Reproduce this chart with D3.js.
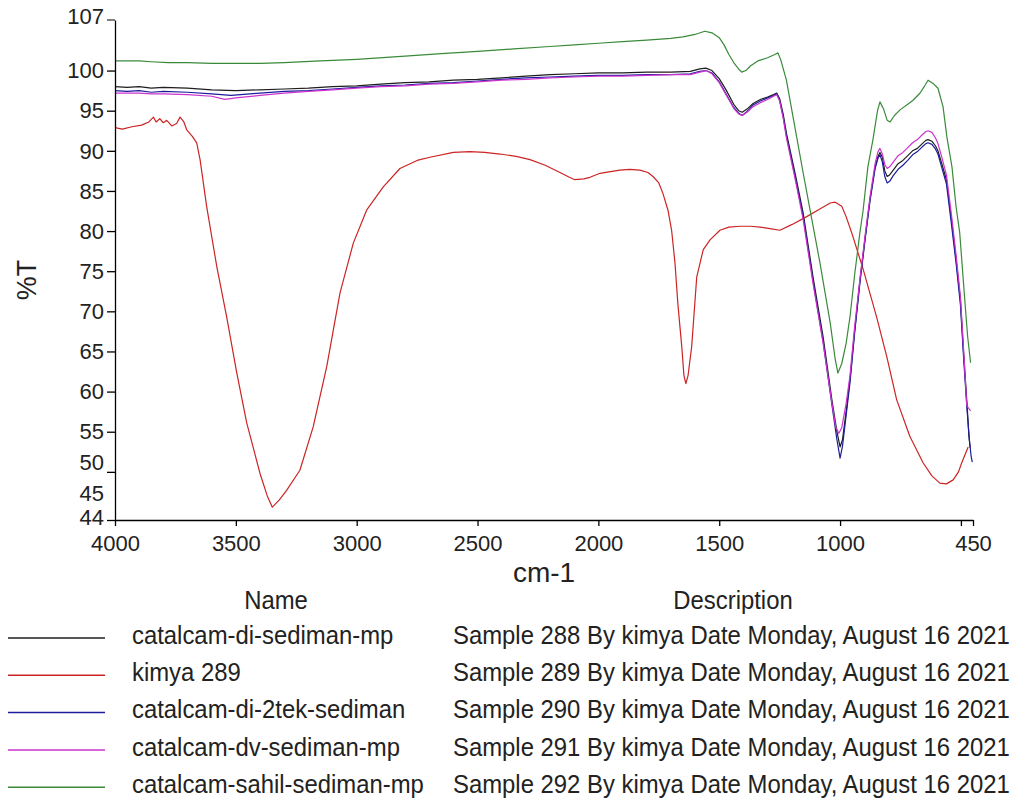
<!DOCTYPE html>
<html>
<head>
<meta charset="utf-8">
<script src="https://cdn.jsdelivr.net/npm/d3@7"></script>
<style>
  html, body { margin: 0; padding: 0; background: #fff; }
  svg { display: block; }
  text { font-family: "Liberation Sans", Arial, sans-serif; fill: #222; }
</style>
</head>
<body>
<svg id="chart" width="1017" height="805"></svg>
<script>
// ---------- DATA (wavenumber cm-1, %T) ----------
const seriesNames = ["catalcam-di-sediman-mp", "kimya 289", "catalcam-di-2tek-sediman", "catalcam-dv-sediman-mp", "catalcam-sahil-sediman-mp"];
const seriesDescriptions = [
  "Sample 288 By kimya Date Monday, August 16 2021",
  "Sample 289 By kimya Date Monday, August 16 2021",
  "Sample 290 By kimya Date Monday, August 16 2021",
  "Sample 291 By kimya Date Monday, August 16 2021",
  "Sample 292 By kimya Date Monday, August 16 2021"
];
const seriesColors = ["#1e1e1e", "#cc2424", "#1c1c9c", "#cc33cc", "#3a8a3a"];

const black = [
  [4000,98.0],[3950,97.9],[3900,98.0],[3850,97.8],[3800,97.9],[3700,97.8],[3600,97.6],[3500,97.5],[3400,97.6],[3300,97.7],
  [3200,97.8],[3100,98.0],[3000,98.1],[2900,98.3],[2800,98.5],[2700,98.6],[2600,98.8],[2500,98.9],[2400,99.1],
  [2300,99.3],[2200,99.5],[2100,99.6],[2000,99.7],[1900,99.7],[1800,99.8],[1700,99.8],[1620,99.9],[1580,100.2],
  [1555,100.3],[1530,100.0],[1500,99.0],[1470,97.5],[1440,95.8],[1420,95.0],[1405,94.8],[1385,95.2],[1360,95.9],
  [1330,96.4],[1300,96.7],[1275,97.0],[1262,97.2],[1250,96.5],[1235,94.5],[1222,92.2],[1186,87.2],[1153,82.3],
  [1112,74.3],[1070,66.8],[1034,59.0],[1013,55.0],[1000,53.1],[990,54.0],[975,57.5],[959,61.5],[940,67.5],
  [918,73.8],[895,79.5],[876,84.0],[855,88.0],[843,89.3],[835,89.8],[825,89.2],[815,87.5],[805,86.8],[795,87.0],
  [780,87.6],[760,88.4],[740,88.8],[720,89.4],[700,90.0],[680,90.3],[660,90.9],[645,91.3],[636,91.4],[620,91.2],
  [605,90.6],[595,90.0],[580,88.5],[560,86.4],[539,81.4],[520,76.5],[502,71.4],[488,64.4],[474,58.1],[467,54.5],[462,53.0]
];
const red = [
  [4000,92.9],[3970,92.7],[3930,93.0],[3890,93.2],[3860,93.6],[3841,94.2],[3830,93.6],[3815,94.0],[3800,93.5],
  [3786,93.8],[3765,93.1],[3745,93.4],[3731,94.2],[3715,93.6],[3703,92.6],[3680,91.8],[3662,91.0],[3648,88.9],
  [3621,83.1],[3579,75.6],[3538,69.3],[3496,62.3],[3455,56.1],[3400,49.8],[3370,47.0],[3349,45.6],[3320,46.5],
  [3290,47.7],[3235,50.2],[3180,55.6],[3124,63.1],[3069,72.3],[3014,78.5],[2959,82.6],[2890,85.5],[2821,87.8],
  [2750,88.8],[2697,89.2],[2600,89.8],[2531,89.9],[2470,89.8],[2407,89.6],[2340,89.3],[2283,88.9],[2220,88.2],
  [2159,87.3],[2120,86.7],[2097,86.4],[2060,86.5],[2035,86.7],[1993,87.2],[1950,87.4],[1911,87.6],[1870,87.7],
  [1828,87.6],[1795,87.3],[1774,86.8],[1750,86.0],[1733,84.7],[1712,82.6],[1697,80.1],[1683,76.0],[1671,70.9],
  [1655,65.6],[1646,62.0],[1638,61.0],[1629,62.0],[1614,65.6],[1593,74.3],[1566,77.7],[1538,78.9],[1497,80.1],
  [1460,80.5],[1414,80.6],[1370,80.6],[1331,80.5],[1290,80.3],[1249,80.1],[1200,80.8],[1138,81.8],[1080,82.8],
  [1041,83.5],[1020,83.6],[993,83.1],[975,81.8],[952,79.8],[904,75.2],[849,69.3],[807,64.4],[766,59.0],
  [711,54.4],[656,51.1],[620,49.5],[587,48.6],[560,48.5],[532,49.0],[510,50.0],[497,51.1],[470,53.1]
];
const blue = [
  [4000,97.5],[3950,97.4],[3900,97.5],[3850,97.3],[3800,97.4],[3700,97.3],[3600,97.1],[3520,96.9],[3480,97.0],
  [3400,97.2],[3300,97.4],[3200,97.5],[3100,97.7],[3000,97.9],[2900,98.1],[2800,98.2],[2700,98.4],[2600,98.5],
  [2500,98.7],[2400,98.9],[2300,99.1],[2200,99.2],[2100,99.3],[2000,99.4],[1900,99.4],[1800,99.5],[1700,99.5],
  [1620,99.6],[1580,99.9],[1555,100.0],[1530,99.7],[1500,98.6],[1470,97.0],[1440,95.4],[1420,94.7],[1405,94.4],
  [1385,94.9],[1360,95.7],[1330,96.2],[1300,96.6],[1275,96.9],[1262,97.1],[1250,96.3],[1235,94.2],[1222,91.9],
  [1186,86.8],[1153,81.9],[1112,73.8],[1070,66.2],[1034,58.4],[1013,54.0],[1000,51.7],[990,53.2],[975,57.0],
  [959,61.1],[940,67.2],[918,73.5],[895,79.3],[876,83.8],[855,87.8],[843,89.1],[835,89.5],[825,88.6],[815,86.8],
  [805,86.0],[795,86.2],[780,86.9],[760,87.7],[740,88.2],[720,88.8],[700,89.5],[680,89.9],[660,90.5],[645,90.9],
  [636,91.0],[620,90.8],[605,90.2],[595,89.6],[580,88.0],[560,85.9],[539,80.8],[520,76.0],[502,70.8],[488,63.8],
  [474,57.5],[465,54.0],[458,52.0],[453,51.2]
];
const magenta = [
  [4000,97.2],[3950,97.2],[3900,97.2],[3850,97.1],[3800,97.1],[3700,97.0],[3600,96.8],[3545,96.4],[3500,96.6],
  [3400,96.9],[3300,97.2],[3200,97.4],[3100,97.6],[3000,97.8],[2900,98.0],[2800,98.1],[2700,98.3],[2600,98.4],
  [2500,98.6],[2400,98.8],[2300,98.9],[2200,99.1],[2100,99.2],[2000,99.3],[1900,99.3],[1800,99.4],[1700,99.5],
  [1620,99.5],[1580,99.8],[1555,100.0],[1530,99.6],[1500,98.5],[1470,96.9],[1440,95.3],[1420,94.6],[1405,94.4],
  [1385,94.8],[1360,95.5],[1330,96.0],[1300,96.4],[1275,96.8],[1262,97.0],[1250,96.2],[1235,94.0],[1222,91.6],
  [1186,86.5],[1153,81.5],[1112,73.5],[1070,66.0],[1034,58.6],[1018,55.6],[1005,54.8],[993,55.5],[975,58.5],
  [959,62.0],[940,68.0],[918,74.0],[895,79.8],[876,84.3],[855,88.4],[843,89.9],[835,90.3],[825,89.6],[815,88.3],
  [805,87.8],[795,88.0],[780,88.6],[760,89.4],[740,89.8],[720,90.4],[700,91.0],[680,91.4],[660,92.0],[645,92.4],
  [636,92.5],[620,92.3],[605,91.6],[595,90.9],[580,89.3],[560,87.0],[539,82.0],[520,77.0],[502,71.8],[488,64.8],
  [476,58.3],[470,58.0],[465,57.8],[460,57.6]
];
const green = [
  [4000,101.2],[3900,101.2],[3850,101.1],[3780,101.0],[3700,101.0],[3600,100.9],[3500,100.9],[3400,100.9],
  [3300,101.0],[3150,101.2],[3000,101.4],[2800,101.8],[2650,102.1],[2500,102.4],[2350,102.7],[2200,103.0],
  [2100,103.2],[2000,103.4],[1900,103.6],[1800,103.8],[1700,104.0],[1650,104.2],[1600,104.5],[1560,104.9],
  [1530,104.7],[1500,104.1],[1480,103.2],[1460,102.0],[1440,101.0],[1420,100.2],[1407,99.8],[1390,100.0],
  [1370,100.6],[1340,101.2],[1300,101.6],[1270,102.0],[1257,102.2],[1245,101.3],[1235,100.2],[1222,98.8],
  [1195,94.3],[1153,87.3],[1124,82.6],[1083,76.0],[1041,68.6],[1020,64.0],[1009,62.3],[993,63.5],[975,66.0],
  [959,69.3],[940,74.5],[918,79.8],[905,82.5],[885,88.0],[864,91.4],[845,95.0],[835,96.1],[820,95.2],
  [805,93.8],[793,93.6],[775,94.4],[752,95.1],[720,95.8],[698,96.3],[669,97.2],[650,98.1],[636,98.8],
  [615,98.4],[595,97.8],[574,95.5],[558,91.7],[537,88.0],[520,83.0],[505,79.8],[484,71.4],[472,66.8],[460,63.6]
];
const seriesData = [black, red, blue, magenta, green];

const xTickValues = [4000, 3500, 3000, 2500, 2000, 1500, 1000, 500, 450];
const xTickLabels = ["4000", "3500", "3000", "2500", "2000", "1500", "1000", "", "450"];
const yTickValues = [100, 95, 90, 85, 80, 75, 70, 65, 60, 55, 50, 44];
const yTickLabels = ["100", "95", "90", "85", "80", "75", "70", "65", "60", "55", "50", "44"];
const yTopLabel = "107";
const yExtraLabel = { value: 45, text: "45" };
const xTitle = "cm-1";
const yTitle = "%T";
const legendHeaders = ["Name", "Description"];

// ---------- CHART ----------
const svg = d3.select("#chart");
const x = d3.scaleLinear().domain([4000, 450]).range([115, 973]);
const y = d3.scaleLinear().domain([44, 106.3]).range([520, 20]);

// lines
const line = d3.line().x(d => x(d[0])).y(d => y(d[1]));
svg.append("g").selectAll("path")
  .data(seriesData)
  .join("path")
  .attr("d", line)
  .attr("fill", "none")
  .attr("stroke", (d, i) => seriesColors[i])
  .attr("stroke-width", 1.2)
  .attr("stroke-linejoin", "round");

const tickFont = "22px";

// y axis
const yAxis = d3.axisLeft(y)
  .tickValues(yTickValues)
  .tickFormat((d, i) => yTickLabels[i])
  .tickSize(8).tickPadding(3).tickSizeOuter(0);
const gy = svg.append("g").attr("transform", "translate(115,0)").call(yAxis);
gy.selectAll("text").style("font-size", tickFont).attr("fill", "#222")
  .attr("dy", d => d === 50 ? "-0.1em" : (d === 44 ? "0.2em" : "0.33em"));
// top end tick + label
gy.append("line").attr("x1", -8).attr("x2", 0).attr("y1", y.range()[1]).attr("y2", y.range()[1]).attr("stroke", "#000");
gy.append("text").attr("x", -11).attr("y", y.range()[1]).attr("dy", "0.2em")
  .attr("text-anchor", "end").style("font-size", tickFont).attr("fill", "#222").text(yTopLabel);
gy.append("text").attr("x", -11).attr("y", y(yExtraLabel.value)).attr("dy", "-0.5em")
  .attr("text-anchor", "end").style("font-size", tickFont).attr("fill", "#222").text(yExtraLabel.text);
gy.selectAll(".domain, .tick line").attr("stroke", "#000").attr("stroke-width", 1.3);

// x axis
const xAxis = d3.axisBottom(x)
  .tickValues(xTickValues)
  .tickFormat((d, i) => xTickLabels[i])
  .tickSize(6).tickPadding(9).tickSizeOuter(0);
const gx = svg.append("g").attr("transform", "translate(0,520)").call(xAxis);
gx.selectAll("text").style("font-size", tickFont).attr("fill", "#222");
gx.selectAll(".domain, .tick line").attr("stroke", "#000").attr("stroke-width", 1.3);

// titles
svg.append("text").attr("x", 544).attr("y", 572).attr("dy", "0.35em")
  .attr("text-anchor", "middle").style("font-size", "28px").text(xTitle);
svg.append("text").attr("transform", "translate(27,280) rotate(-90)").attr("dy", "0.35em")
  .attr("text-anchor", "middle").style("font-size", "27px").text(yTitle);

// legend
const legend = svg.append("g");
const legFont = "25px", legSx = 0.955;
legend.append("text").attr("transform", `translate(276,600) scale(${legSx},1)`).attr("dy", "0.35em")
  .attr("text-anchor", "middle").style("font-size", legFont).text(legendHeaders[0]);
legend.append("text").attr("transform", `translate(733,600) scale(${legSx},1)`).attr("dy", "0.35em")
  .attr("text-anchor", "middle").style("font-size", legFont).text(legendHeaders[1]);
const rows = legend.selectAll("g.row").data(seriesNames).join("g")
  .attr("class", "row")
  .attr("transform", (d, i) => `translate(0,${635 + i * 37.3})`);
rows.append("line").attr("x1", 8).attr("x2", 105).attr("y1", 3).attr("y2", 3)
  .attr("stroke", (d, i) => seriesColors[i]).attr("stroke-width", 1.5);
rows.append("text").attr("transform", `translate(132,0) scale(${legSx},1)`).attr("dy", "0.35em")
  .style("font-size", legFont).text(d => d);
rows.append("text").attr("transform", `translate(453,0) scale(${legSx},1)`).attr("dy", "0.35em")
  .style("font-size", legFont).text((d, i) => seriesDescriptions[i]);
</script>
</body>
</html>
